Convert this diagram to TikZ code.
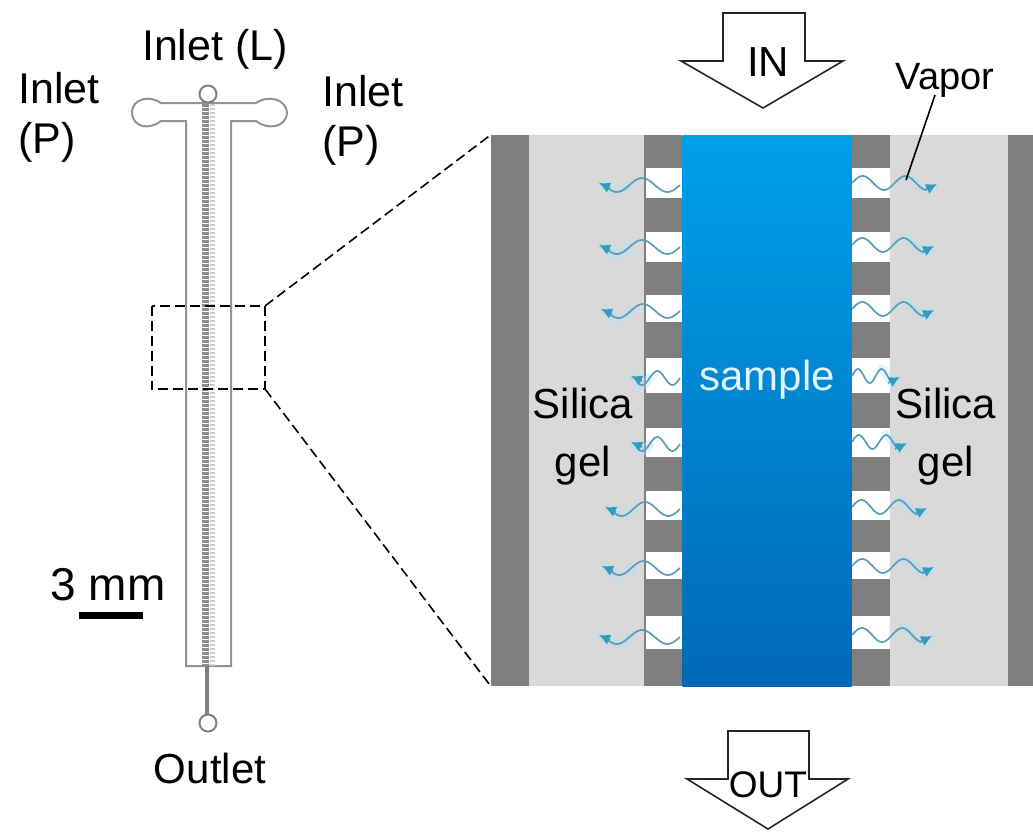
\documentclass[tikz,border=0pt]{standalone}
\usepackage{fontspec}
\setmainfont{Liberation Sans}
\usetikzlibrary{arrows.meta,positioning,calc}
\definecolor{gelszurke}{HTML}{D9D9D9}
\definecolor{falszurke}{HTML}{7F7F7F}
\definecolor{mintafent}{HTML}{00A0E9}
\definecolor{mintalent}{HTML}{0068B7}
\definecolor{gozszin}{HTML}{5A9DB8}
\definecolor{gozfej}{HTML}{2F9CC0}
\tikzset{
  cimke/.style={inner sep=0pt,align=center,font=\fontsize{42}{50}\selectfont},
  cimkebal/.style={cimke,align=left,font=\fontsize{43}{50}\selectfont},
  kapu/.style={circle,draw=gray,fill=white,line width=2pt,inner sep=0pt,minimum size=17pt},
  csatorna/.style={draw=gray!85,line width=2pt},
  nyil/.style={draw=black!85,line width=1.6pt,line join=miter},
  szagg/.style={draw=black,line width=1.6pt,dash pattern=on 10pt off 5pt},
  goz/.style={draw=gozszin,line width=1.7pt},
  gozhegy/.style={goz,-{Latex[length=11pt,width=11pt,color=gozfej]}},
  fenyud/.style={draw=cyan!35,line width=9pt,opacity=0.35},
}
\begin{document}
\begin{tikzpicture}[x=1pt,y=-1pt]
  \useasboundingbox (0,0) rectangle (1033,831);
  % chip
  \draw[csatorna] (186,666) -- (186,121) -- (161,121)
    .. controls (150,130) and (133,128) .. (132,113)
    .. controls (132,98) and (150,95) .. (161,103) -- (256,103)
    .. controls (267,95) and (286,98) .. (287,113)
    .. controls (286,128) and (267,130) .. (256,121) -- (231,121) -- (231,666) -- cycle;
  \draw[draw=gray,line width=3.5pt] (207,666) -- (207,714);
  \fill[white] (199,104) rectangle (217,665);
  \draw[draw=gray!90,line width=7pt,dash pattern=on 3pt off 1pt] (205,100) -- (205,666);
  \draw[draw=gray!40,line width=5pt,dash pattern=on 2pt off 2pt] (212,104) -- (212,666);
  \node[kapu] (felso) at (208,94) {};
  \node[kapu] (also) at (208,723) {};
  \node[draw=none,minimum width=113pt,minimum height=83pt,inner sep=0pt] (kivagas) at (208.5,347.5) {};
  \draw[szagg] (kivagas.north west) rectangle (kivagas.south east);
  % right panel
  \node[fill=gelszurke,minimum width=542pt,minimum height=551pt,inner sep=0pt] (panel) at (762,410.5) {};
  \fill[falszurke] (491,135) rectangle (529,686);
  \fill[falszurke] (1008,135) rectangle (1033,686);
  \fill[falszurke] (644,135) rectangle (682,686);
  \fill[falszurke] (851,135) rectangle (890,686);
  \foreach \fent/\lent in {168/198,232/262,295/322,358/393,428/457,491/520,552/579,616/649}{
    \fill[white] (646,\fent) rectangle (682,\lent);
    \fill[white] (851,\fent) rectangle (890,\lent);
  }
  \node[top color=mintafent,bottom color=mintalent,minimum width=169pt,minimum height=551pt,inner sep=0pt] (minta) at (767,410.5) {};
  \foreach \sor/\bal/\jobb in {183/600/935,245/600/932,309/602/932,376/632/898,442/632/905,507/606/925,566/603/932,635/600/930}{
    \draw[fenyud] plot[variable=\t,domain=0.6:1,samples=20,smooth] ({680+(\bal-680)*\t},{\sor+2+7*sin(570*\t)});
    \draw[fenyud] plot[variable=\t,domain=0.6:1,samples=20,smooth] ({852+(\jobb-852)*\t},{\sor+7*sin(-700*\t)});
    \draw[goz] plot[variable=\t,domain=0:0.9,samples=40,smooth] ({680+(\bal-680)*\t},{\sor+2+7*sin(570*\t)});
    \draw[goz] plot[variable=\t,domain=0:0.9,samples=40,smooth] ({852+(\jobb-852)*\t},{\sor+7*sin(-700*\t)});
    \draw[gozhegy] ({\bal+10},{\sor+5}) -- ({\bal-1},{\sor});
    \draw[gozhegy] ({\jobb-10},{\sor+7}) -- ({\jobb+2},{\sor+1});
  }
  \draw[szagg] (kivagas.north east) -- (panel.north west);
  \draw[szagg] (kivagas.south east) -- (panel.south west);
  % big arrows
  \draw[nyil] (723,61) -- (723,13) -- (805,13) -- (805,61) -- (843,61) -- (763,108) -- (681,61) -- cycle;
  \draw[nyil] (728,779) -- (728,731) -- (809,731) -- (809,779) -- (848,779) -- (768,829) -- (687,779) -- cycle;
  % labels
  \node[cimkebal] (inletl) at (215,49) {Inlet (L)};
  \node[cimkebal,anchor=west] (inletbal) at (18,117) {Inlet\\(P)};
  \node[cimkebal,anchor=west] (inletjobb) at (322,120) {Inlet\\(P)};
  \node[cimke] (outlet) at (210,768) {Outlet};
  \node[cimke,font=\fontsize{46}{50}\selectfont] (skala) at (108,585) {3 mm};
  \fill[black] (79,612) rectangle (143,619);
  \node[cimke] (be) at (768,62) {IN};
  \node[cimke,font=\fontsize{37}{44}\selectfont] (ki) at (768,785) {OUT};
  \node[cimke,font=\fontsize{38}{44}\selectfont] (vapor) at (945,80) {Vapor};
  \coordinate (vaporveg) at (906,180);
  \draw[draw=black,line width=1.6pt] (935,95) -- (vaporveg);
  \node[cimke,text=cyan!12] (mintacimke) at (767,380) {sample};
  \node[cimke] (silicabal) at (583,437) {Silica\\[8pt]gel};
  \node[cimke] (silicajobb) at (946,437) {Silica\\[8pt]gel};
\end{tikzpicture}
\end{document}
